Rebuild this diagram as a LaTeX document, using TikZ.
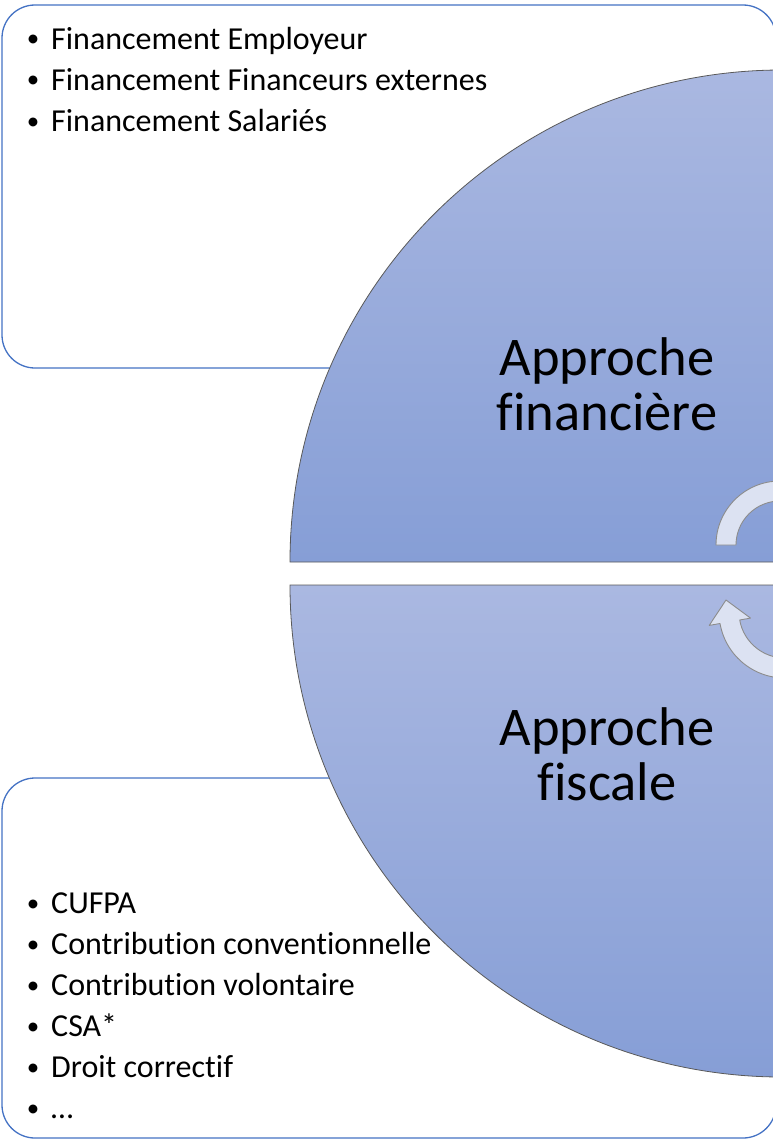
\documentclass[tikz,border=0pt]{standalone}
\usepackage{fontspec}
\setmainfont{Carlito}[Ligatures=CommonOff]
\definecolor{boxblue}{HTML}{4472C4}
\definecolor{disktop}{HTML}{AAB8E1}
\definecolor{diskbot}{HTML}{869ED6}
\definecolor{arrowfill}{HTML}{DCE2F2}
\begin{document}
\begin{tikzpicture}[x=1pt,y=1pt,
  listbox/.style={draw=boxblue,line width=1.3pt,fill=white,rounded corners=33pt},
  halfdisk/.style={top color=disktop,bottom color=diskbot,draw=black!65,line width=0.8pt},
  cycarrow/.style={fill=arrowfill,draw=black!45,line width=0.9pt,line join=round},
  item/.style={anchor=base west,inner sep=0pt,font=\fontsize{32}{38}\selectfont},
  bul/.style={anchor=base,inner sep=0pt,font=\fontsize{25}{30}\selectfont},
  biglabel/.style={align=center,inner sep=0pt,font=\fontsize{54.5}{55}\selectfont}]
\useasboundingbox (0,0) rectangle (773,-1140);
\clip (0,0) rectangle (773,-1140);
% list boxes
\path[listbox] (2,-5) rectangle (776,-368);
\path[listbox] (2,-778) rectangle (776,-1138);
% half disks
\path[halfdisk] (290,-562) arc[start angle=180,end angle=0,radius=492] -- cycle;
\path[halfdisk] (290,-585) arc[start angle=180,end angle=360,radius=492] -- cycle;
% circular arrows
\path[cycarrow] (716,-545) arc[start angle=180,end angle=0,radius=64]
  -- (824,-545) arc[start angle=0,end angle=180,radius=44] -- cycle;
\path[cycarrow] (720.0,-623.5) arc[start angle=190,end angle=360,radius=66]
  -- (831,-612) arc[start angle=360,end angle=190,radius=46]
  -- (750.5,-618.1) -- (726,-600) -- (709.2,-625.4) -- cycle;
% labels
\node[biglabel] (fin) at (607,-384) {Approche\\financière};
\node[biglabel] (fis) at (607,-754) {Approche\\fiscale};
% top list
\foreach \t [count=\i] in {Financement Employeur,Financement Financeurs externes,Financement Salariés}{
  \node[bul] (tb\i) at (33,-47-41*\i+41) {\textbullet};
  \node[item] (ti\i) at (51,-49-41*\i+41) {\t};
}
% bottom list
\foreach \t [count=\i] in {CUFPA,Contribution conventionnelle,Contribution volontaire,CSA*,Droit correctif,…}{
  \node[bul] (bb\i) at (33,-911-41*\i+41) {\textbullet};
  \node[item] (bi\i) at (51,-913-41*\i+41) {\t};
}
\end{tikzpicture}
\end{document}
